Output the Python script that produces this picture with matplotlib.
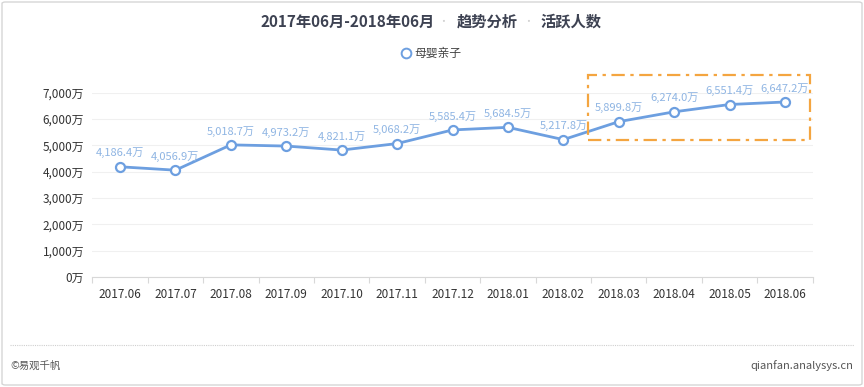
import matplotlib
matplotlib.use("Agg")
import matplotlib.pyplot as plt
from matplotlib.patches import Rectangle, FancyBboxPatch
from matplotlib.lines import Line2D

plt.rcParams['font.family'] = ['Noto Sans CJK SC', 'DejaVu Sans']

months = ["2017.06", "2017.07", "2017.08", "2017.09", "2017.10", "2017.11",
          "2017.12", "2018.01", "2018.02", "2018.03", "2018.04", "2018.05",
          "2018.06"]
active_users = [4186.4, 4056.9, 5018.7, 4973.2, 4821.1, 5068.2, 5585.4,
                5684.5, 5217.8, 5899.8, 6274.0, 6551.4, 6647.2]
y_ticks = [0, 1000, 2000, 3000, 4000, 5000, 6000, 7000]
series_name = "母婴亲子"
title_parts = ["2017年06月-2018年06月", "趋势分析", "活跃人数"]

LINE = "#6d9fe0"
LABEL = "#8fb5e3"
ORANGE = "#f4a540"

fig = plt.figure(figsize=(8.64, 3.87), dpi=100)
W, H = 864, 387

# card frame
fig.add_artist(FancyBboxPatch((2 / W, 2 / H), 1 - 4 / W, 1 - 4 / H,
                              boxstyle="round,pad=0,rounding_size=0.004",
                              transform=fig.transFigure, fill=False,
                              edgecolor="#d6d6d6", linewidth=1.0))

ax = fig.add_axes([92.3 / W, 1 - 277 / H, 720.4 / W, 184.3 / H])
x = list(range(len(months)))
ax.plot(x, active_users, color=LINE, linewidth=2.0, marker="o",
        markersize=6.5, markerfacecolor="white", markeredgecolor=LINE,
        markeredgewidth=1.6, zorder=3)
for xi, v in zip(x, active_users):
    ax.annotate(f"{v:,.1f}万", (xi, v), xytext=(0, 6), textcoords="offset points",
                ha="center", va="bottom", fontsize=8, color=LABEL)

ax.set_xlim(-0.5, len(months) - 0.5)
ax.set_ylim(0, 7000)
ax.set_yticks(y_ticks)
ax.set_yticklabels([f"{t:,}万" for t in y_ticks], fontsize=8.5, color="#333333")
ax.set_xticks(x)
ax.set_xticklabels(months, fontsize=8.5, color="#333333")
ax.tick_params(axis="y", length=0, pad=6)
ax.tick_params(axis="x", length=0, pad=8)
ax.set_xticks([i - 0.5 for i in range(len(months) + 1)], minor=True)
ax.tick_params(axis="x", which="minor", length=4, color="#d8d8d8", width=0.8)
for s in ["top", "right", "left"]:
    ax.spines[s].set_visible(False)
ax.spines["bottom"].set_color("#d8d8d8")
ax.grid(axis="y", color="#f0f0f0", linewidth=0.8)
ax.set_axisbelow(True)

# highlight box around the last four months
ax.add_patch(Rectangle((8.45, 5209), 4.0, 2470, fill=False, edgecolor=ORANGE,
                       linewidth=1.6, linestyle=(0, (6, 2.5, 1.5, 2.5)),
                       clip_on=False, zorder=4))

# title
ty = 1 - 22 / H
tkw = dict(ha="center", va="center", fontsize=11, fontweight="bold",
           color="#3d4252")
fig.text(348 / W, ty, title_parts[0], **tkw)
fig.text(443 / W, ty, "•", ha="center", va="center", fontsize=7, color="#d0d0d0")
fig.text(487 / W, ty, title_parts[1], **tkw)
fig.text(528 / W, ty, "•", ha="center", va="center", fontsize=7, color="#d0d0d0")
fig.text(571 / W, ty, title_parts[2], **tkw)

# legend
ly = 1 - 53 / H
fig.add_artist(Line2D([406 / W], [ly], marker="o", markersize=7,
                      markerfacecolor="white", markeredgecolor=LINE,
                      markeredgewidth=1.4, transform=fig.transFigure))
fig.text(414 / W, ly, series_name, ha="left", va="center", fontsize=8.5,
         color="#444444")

# footer
fig.add_artist(Line2D([10 / W, 854 / W], [1 - 345 / H] * 2, color="#cfcfcf",
                      linewidth=0.8, linestyle=(0, (1, 1)),
                      transform=fig.transFigure))
fig.text(10 / W, 1 - 366 / H, "©易观千帆", ha="left", va="center", fontsize=7.5,
         color="#555555")
fig.text(853 / W, 1 - 366 / H, "qianfan.analysys.cn", ha="right", va="center",
         fontsize=8, color="#555555")

fig.savefig("out.png", dpi=100)
